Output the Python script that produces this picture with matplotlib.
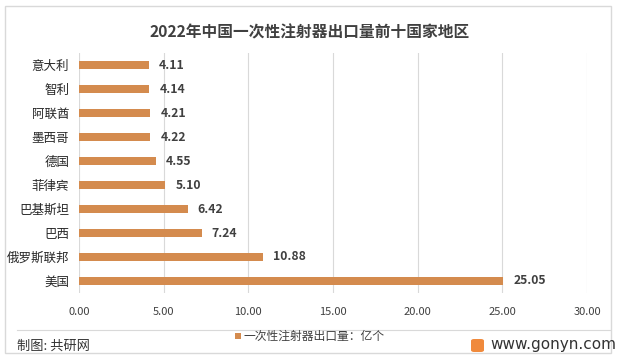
import matplotlib
matplotlib.use("Agg")
import matplotlib.pyplot as plt
from matplotlib.patches import Rectangle, FancyBboxPatch
from matplotlib.lines import Line2D

plt.rcParams['font.family'] = ['Noto Sans CJK SC', 'DejaVu Sans']

categories = ["意大利", "智利", "阿联酋", "墨西哥", "德国", "菲律宾", "巴基斯坦", "巴西", "俄罗斯联邦", "美国"]
values = [4.11, 4.14, 4.21, 4.22, 4.55, 5.10, 6.42, 7.24, 10.88, 25.05]
xticks = [0, 5, 10, 15, 20, 25, 30]
title = "2022年中国一次性注射器出口量前十国家地区"
legend_label = "一次性注射器出口量：亿个"
bar_color = "#D48B4E"

fig = plt.figure(figsize=(6.17, 3.58), dpi=100)
fig.patch.set_facecolor("white")

# outer border
fig.add_artist(Rectangle((5/617, 5/358), 606/617, 347/358, transform=fig.transFigure,
                         fill=False, edgecolor="#D9D9D9", linewidth=1))

ax = fig.add_axes([79/617, 1-293/358, (587-79)/617, (293-53)/358])
y = list(range(len(categories)))[::-1]
ax.barh(y, values, height=0.34, color=bar_color, zorder=3)
for yi, v in zip(y, values):
    ax.text(v + 0.6, yi, f"{v:.2f}", va="center", ha="left", fontsize=8.8,
            fontweight="bold", color="#404040")
ax.set_yticks(y)
ax.set_yticklabels(categories, fontsize=9, color="#262626", fontweight="medium")
ax.set_ylim(-0.5, len(categories) - 0.5)
ax.set_xlim(0, 30)
ax.set_xticks(xticks)
ax.set_xticklabels([f"{t:.2f}" for t in xticks], fontsize=8, color="#404040")
ax.grid(axis="x", color="#D9D9D9", linewidth=0.8, zorder=0)
for s in ax.spines.values():
    s.set_visible(False)
ax.tick_params(axis="both", length=0)
ax.tick_params(axis="x", pad=10)
ax.tick_params(axis="y", pad=7)

fig.text(310/617, 1-32/358, title, ha="center", va="center", fontsize=11.3,
         fontweight="bold", color="#404040")

# separator line
fig.add_artist(Line2D([17/617, 610/617], [1-330/358, 1-330/358], transform=fig.transFigure,
                      color="#D9D9D9", linewidth=0.8))

# legend
fig.add_artist(Rectangle((235/617, 1-336/358 - 3/358), 6/617, 6/358, transform=fig.transFigure,
                         facecolor=bar_color, edgecolor="none"))
fig.text(244/617, 1-336/358, legend_label, ha="left", va="center", fontsize=8.5, color="#404040")

fig.text(17/617, 1-346/358, "制图: 共研网", ha="left", va="center", fontsize=9.5, color="#333333")
fig.add_artist(FancyBboxPatch((471/617, 1-352/358), 13/617, 13/358, transform=fig.transFigure,
                              boxstyle="round,pad=0,rounding_size=0.005",
                              facecolor="#F08A3C", edgecolor="none"))
fig.text(490/617, 1-345/358, "www.gonyn.com", ha="left", va="center", fontsize=11, color="#333333",
         family="DejaVu Sans")

fig.savefig("out.png", dpi=100, facecolor="white")
